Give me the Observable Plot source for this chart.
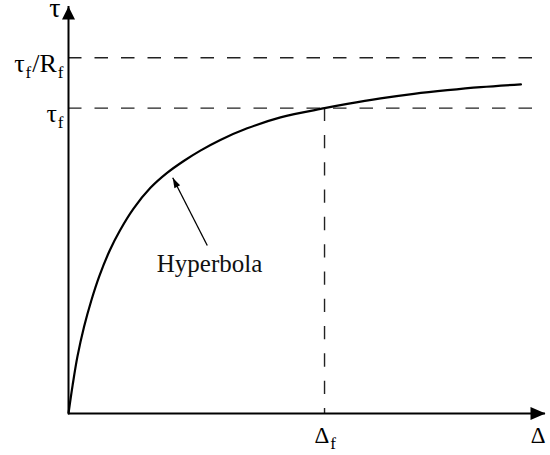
<!DOCTYPE html>
<html>
<head>
<meta charset="utf-8">
<script src="https://cdn.jsdelivr.net/npm/d3@7"></script>
<script src="https://cdn.jsdelivr.net/npm/@observablehq/plot@0.6"></script>
<style>
  html, body { margin: 0; padding: 0; background: #fff; }
</style>
</head>
<body>
<div id="chart"></div>
<script>
// ---- data (normalised: Δf = 1, τf = 1) ----
const curveDelta = [0, 0.016, 0.035, 0.061, 0.088, 0.120, 0.161, 0.202, 0.254, 0.320, 0.385, 0.450, 0.515, 0.593, 0.698, 0.828, 1.0, 1.089, 1.219, 1.349, 1.480, 1.610, 1.767];
const curveTau   = [0, 0.092, 0.187, 0.285, 0.367, 0.449, 0.534, 0.601, 0.671, 0.739, 0.788, 0.827, 0.861, 0.896, 0.934, 0.970, 1.0, 1.014, 1.032, 1.047, 1.059, 1.069, 1.078];

const tauLevels = [1.165, 1.0];            // τf/Rf (asymptote), τf
const tauLevelLabels = ["τ_f/R_f", "τ_f"];
const deltaF = 1.0;
const deltaFLabel = "Δ_f";
const xMax = 1.863, yMax = 1.333;          // axis arrow tips
const dashEnd = 1.844;
const xAxisName = "Δ", yAxisName = "τ";
const annotationText = "Hyperbola";
const annotationPos = [0.551, 0.462];
const arrowTail = [0.542, 0.550], arrowTip = [0.407, 0.772];

const curve = curveDelta.map((d, i) => ({d, t: curveTau[i]}));

// ---- layout ----
const W = 550, H = 455;
const mL = 68, mR = 5, mT = 6, mB = 42;
const kx = (W - mL - mR) / xMax, ky = (H - mT - mB) / yMax;

function headSymbol(angleDeg, len, halfW) {
  const a = angleDeg * Math.PI / 180;
  const ux = Math.sin(a), uy = -Math.cos(a);
  const px = -uy, py = ux;
  return {draw(ctx) {
    ctx.moveTo(0, 0);
    ctx.lineTo(-len * ux + halfW * px, -len * uy + halfW * py);
    ctx.lineTo(-len * ux - halfW * px, -len * uy - halfW * py);
    ctx.closePath();
  }};
}
const annAngle = Math.atan2((arrowTip[0] - arrowTail[0]) * kx, (arrowTip[1] - arrowTail[1]) * ky) * 180 / Math.PI;

const serif = "Liberation Serif, Times New Roman, serif";

const plot = Plot.plot({
  width: W, height: H,
  marginLeft: mL, marginRight: mR, marginTop: mT, marginBottom: mB,
  x: {domain: [0, xMax], axis: null},
  y: {domain: [0, yMax], axis: null},
  style: {fontFamily: serif, background: "white", color: "black", overflow: "visible"},
  marks: [
    // dashed reference lines
    Plot.ruleY(tauLevels, {x1: 0, x2: dashEnd, stroke: "#222", strokeWidth: 1.4, strokeDasharray: "13.5,13"}),
    Plot.ruleX([deltaF], {y1: tauLevels[1], y2: 0, stroke: "#222", strokeWidth: 1.4, strokeDasharray: "13.3,14"}),
    // axes
    Plot.ruleX([0], {y1: 0, y2: yMax, stroke: "black", strokeWidth: 2}),
    Plot.ruleY([0], {x1: 0, x2: xMax, stroke: "black", strokeWidth: 2}),
    Plot.dot([[0, yMax]], {x: d => d[0], y: d => d[1], symbol: headSymbol(0, 13, 6.5), fill: "black"}),
    Plot.dot([[xMax, 0]], {x: d => d[0], y: d => d[1], symbol: headSymbol(90, 15, 6.5), fill: "black"}),
    // hyperbola
    Plot.line(curve, {x: "d", y: "t", stroke: "black", strokeWidth: 2.2, curve: "catmull-rom"}),
    // annotation arrow
    Plot.link([0], {x1: arrowTail[0], y1: arrowTail[1], x2: arrowTip[0], y2: arrowTip[1], stroke: "black", strokeWidth: 1.3}),
    Plot.dot([arrowTip], {x: d => d[0], y: d => d[1], symbol: headSymbol(annAngle, 10, 3.2), fill: "black"}),
    Plot.text([annotationText], {x: annotationPos[0], y: annotationPos[1], text: d => d, fontSize: 25, textAnchor: "middle", lineAnchor: "bottom", fill: "#111"}),
    // labels
    Plot.text(tauLevelLabels, {x: 0, y: (d, i) => tauLevels[i], text: d => d, fontSize: 26, textAnchor: "end", lineAnchor: "bottom", dx: -5, dy: 14, fill: "black"}),
    Plot.text([yAxisName], {x: 0, y: yMax, text: d => d, fontSize: 28, textAnchor: "end", lineAnchor: "bottom", dx: -8, dy: 10, fill: "black"}),
    Plot.text([deltaFLabel], {x: deltaF, y: 0, text: d => d, fontSize: 23, textAnchor: "start", lineAnchor: "bottom", dx: -10, dy: 29, fill: "black"}),
    Plot.text([xAxisName], {x: xMax, y: 0, text: d => d, fontSize: 23, textAnchor: "end", lineAnchor: "bottom", dx: 0, dy: 29, fill: "black"})
  ]
});

// subscripts: "_x" -> subscript x
plot.querySelectorAll("text").forEach(t => {
  const s = t.textContent;
  if (!s.includes("_")) return;
  const parts = s.split(/_(.)/);
  t.textContent = "";
  const ns = "http://www.w3.org/2000/svg";
  let shifted = false;
  parts.forEach((p, i) => {
    const sub = i % 2 === 1;
    if (!p) return;
    const ts = document.createElementNS(ns, "tspan");
    ts.textContent = p;
    if (sub) { ts.setAttribute("font-size", "17"); ts.setAttribute("dy", "6"); ts.setAttribute("dx", "1"); shifted = true; }
    else if (shifted) { ts.setAttribute("dy", "-6"); ts.setAttribute("dx", "1"); shifted = false; }
    t.appendChild(ts);
  });
});

document.getElementById("chart").appendChild(plot);
</script>
</body>
</html>
